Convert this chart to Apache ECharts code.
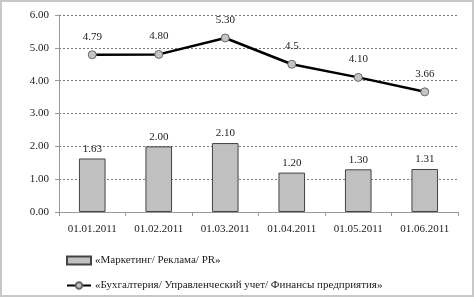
<!DOCTYPE html>
<html>
<head>
<meta charset="utf-8">
<title>chart</title>
<script src="https://cdn.jsdelivr.net/npm/echarts@6/dist/echarts.min.js"></script>
<style>
html,body{margin:0;padding:0;background:#fff;}
#main{width:474px;height:297px;box-sizing:border-box;border:2px solid #c8c8c8;}
</style>
</head>
<body>
<div id="main"></div>
<script type="text/javascript">
var dates = ['01.01.2011', '01.02.2011', '01.03.2011', '01.04.2011', '01.05.2011', '01.06.2011'];
var marketing = [1.63, 2.00, 2.10, 1.20, 1.30, 1.31];
var accounting = [4.79, 4.80, 5.30, 4.5, 4.10, 3.66];
var accountingLabels = ['4.79', '4.80', '5.30', '4.5', '4.10', '3.66'];
var yTicks = [0, 1, 2, 3, 4, 5, 6];

var nameBar = '«Маркетинг/ Реклама/ PR»';
var nameLine = '«Бухгалтерия/ Управленческий учет/ Финансы предприятия»';
var font = 'Liberation Serif';

var chart = echarts.init(document.getElementById('main'));
chart.setOption({
	animation: false,
	textStyle: {fontFamily: font},
	grid: {left: 57, right: 14, top: 13, bottom: 83},
	legend: {
		orient: 'vertical',
		left: 64, top: 253,
		padding: 0,
		itemGap: 14,
		itemWidth: 24, itemHeight: 8,
		textStyle: {fontFamily: font, fontSize: 11, color: '#222', padding: [0, 0, 0, -1]},
		data: [
			{name: nameBar, icon: 'rect'},
			{name: nameLine}
		]
	},
	xAxis: {
		type: 'category',
		data: dates,
		boundaryGap: true,
		axisLine: {lineStyle: {color: '#999'}},
		axisTick: {show: true, lineStyle: {color: '#999'}, length: 4},
		axisLabel: {color: '#222', fontSize: 11, fontFamily: font, margin: 12}
	},
	yAxis: {
		type: 'value',
		min: yTicks[0], max: yTicks[yTicks.length - 1], interval: 1,
		axisLine: {show: true, lineStyle: {color: '#999'}},
		axisTick: {show: true, inside: false, length: 4, lineStyle: {color: '#999'}},
		axisLabel: {color: '#222', fontSize: 11, fontFamily: font, margin: 10,
			formatter: function (v) { return v.toFixed(2); }},
		splitLine: {lineStyle: {color: '#777', type: [2, 2]}}
	},
	series: [
		{
			name: nameBar,
			type: 'bar',
			data: marketing,
			barWidth: '40%',
			itemStyle: {color: '#c0c0c0', borderColor: '#444', borderWidth: 1},
			label: {show: true, position: 'top', distance: 4, color: '#222', fontSize: 11, fontFamily: font,
				formatter: function (p) { return p.value.toFixed(2); }}
		},
		{
			name: nameLine,
			type: 'line',
			data: accounting,
			symbol: 'circle',
			symbolSize: 8,
			lineStyle: {color: '#000', width: 2.5},
			itemStyle: {color: '#c4c4c4', borderColor: '#666', borderWidth: 1},
			label: {show: true, position: 'top', distance: 8, color: '#222', fontSize: 11, fontFamily: font,
				formatter: function (p) { return accountingLabels[p.dataIndex]; }}
		}
	]
});
</script>
</body>
</html>
